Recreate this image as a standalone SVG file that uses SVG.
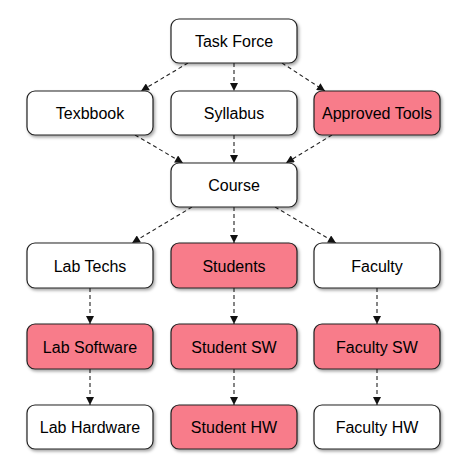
<svg xmlns="http://www.w3.org/2000/svg" width="474" height="473" viewBox="0 0 474 473">
<defs>
<filter id="sh" x="-10%" y="-10%" width="130%" height="140%">
<feDropShadow dx="1.5" dy="2" stdDeviation="1.5" flood-color="#000" flood-opacity="0.35"/>
</filter>
<marker id="ah" viewBox="0 0 10 10" refX="10" refY="5" markerWidth="9" markerHeight="8" markerUnits="userSpaceOnUse" orient="auto">
<path d="M0,0 L10,5 L0,10 z" fill="#111"/>
</marker>
<style>
.n rect{fill:#fff;stroke:#222;stroke-width:1.2;filter:url(#sh)}
.p rect{fill:#f87c8a}
.n text{font-family:"Liberation Sans",Arial,sans-serif;font-size:16px;fill:#000;text-anchor:middle;dominant-baseline:central}
#edges line{stroke:#222;stroke-width:1.1;stroke-dasharray:4 3;marker-end:url(#ah)}
</style>
</defs>
<rect width="474" height="473" fill="#fff"/>
<g id="edges">
<line x1="188" y1="63" x2="141" y2="91"/>
<line x1="234" y1="63" x2="234" y2="91"/>
<line x1="282" y1="63" x2="325" y2="91"/>
<line x1="135" y1="135" x2="183" y2="163"/>
<line x1="234" y1="135" x2="234" y2="163"/>
<line x1="332" y1="135" x2="286" y2="163"/>
<line x1="192" y1="207" x2="132" y2="243"/>
<line x1="234" y1="207" x2="234" y2="243"/>
<line x1="275" y1="207" x2="336" y2="243"/>
<line x1="90" y1="288" x2="90" y2="324"/>
<line x1="234" y1="288" x2="234" y2="324"/>
<line x1="377" y1="288" x2="377" y2="324"/>
<line x1="90" y1="369" x2="90" y2="405"/>
<line x1="234" y1="369" x2="234" y2="405"/>
<line x1="377" y1="369" x2="377" y2="405"/>
</g>
<g id="task-force" class="n"><rect x="171" y="19" width="126" height="44" rx="8"/><text x="234" y="41">Task Force</text></g>
<g id="texbbook" class="n"><rect x="27" y="91" width="126" height="44" rx="8"/><text x="90" y="113">Texbbook</text></g>
<g id="syllabus" class="n"><rect x="171" y="91" width="126" height="44" rx="8"/><text x="234" y="113">Syllabus</text></g>
<g id="approved-tools" class="n p"><rect x="314" y="91" width="126" height="44" rx="8"/><text x="377" y="113">Approved Tools</text></g>
<g id="course" class="n"><rect x="171" y="163" width="126" height="44" rx="8"/><text x="234" y="185">Course</text></g>
<g id="lab-techs" class="n"><rect x="27" y="243" width="126" height="45" rx="8"/><text x="90" y="266">Lab Techs</text></g>
<g id="students" class="n p"><rect x="171" y="243" width="126" height="45" rx="8"/><text x="234" y="266">Students</text></g>
<g id="faculty" class="n"><rect x="314" y="243" width="126" height="45" rx="8"/><text x="377" y="266">Faculty</text></g>
<g id="lab-software" class="n p"><rect x="27" y="324" width="126" height="45" rx="8"/><text x="90" y="347">Lab Software</text></g>
<g id="student-sw" class="n p"><rect x="171" y="324" width="126" height="45" rx="8"/><text x="234" y="347">Student SW</text></g>
<g id="faculty-sw" class="n p"><rect x="314" y="324" width="126" height="45" rx="8"/><text x="377" y="347">Faculty SW</text></g>
<g id="lab-hardware" class="n"><rect x="27" y="405" width="126" height="44" rx="8"/><text x="90" y="427">Lab Hardware</text></g>
<g id="student-hw" class="n p"><rect x="171" y="405" width="126" height="44" rx="8"/><text x="234" y="427">Student HW</text></g>
<g id="faculty-hw" class="n"><rect x="314" y="405" width="126" height="44" rx="8"/><text x="377" y="427">Faculty HW</text></g>
</svg>
